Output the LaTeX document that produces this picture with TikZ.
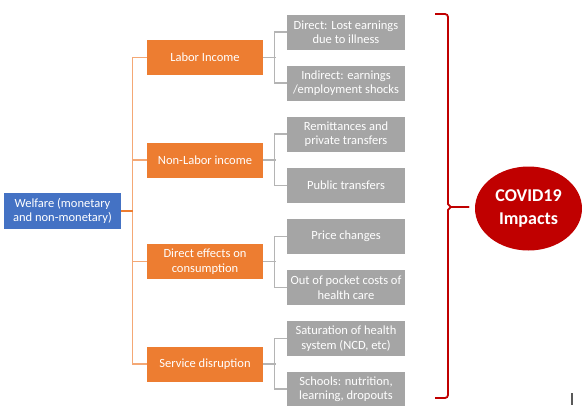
\documentclass[tikz,border=0pt]{standalone}
\usepackage{fontspec}
\setmainfont{Carlito}
\usetikzlibrary{shapes.geometric}
\definecolor{orangebox}{HTML}{ED7D31}
\definecolor{orangeline}{HTML}{F4A875}
\definecolor{graybox}{HTML}{A5A5A5}
\definecolor{grayline}{HTML}{B4B4B4}
\definecolor{bluebox}{HTML}{4472C4}
\definecolor{covidred}{HTML}{C00000}
\begin{document}
\begin{tikzpicture}[x=1pt,y=-1pt,
  box/.style={draw=none,text=white,align=center,inner sep=1pt,font=\fontsize{12.5}{14.5}\selectfont},
  bluenode/.style={box,fill=bluebox,minimum width=117pt,minimum height=36pt},
  orangenode/.style={box,fill=orangebox,minimum width=116pt,minimum height=35pt},
  graynode/.style={box,fill=graybox,minimum width=118pt,minimum height=35pt},
  oline/.style={draw=orangeline,line width=1.3pt},
  owline/.style={draw=orangebox,line width=1.6pt},
  gline/.style={draw=grayline,line width=1.2pt},
  brace/.style={draw=covidred,line width=1.8pt,rounded corners=3pt}]
\useasboundingbox (0,0) rectangle (582,405);
% root
\node[bluenode] (welfare) at (62.5,211) {Welfare (monetary\\and non-monetary)};
% level 1
\node[orangenode] (labor) at (205,57.5) {Labor Income};
\node[orangenode] (nonlabor) at (205,160) {Non-Labor income};
\node[orangenode] (direct) at (205,261.5) {Direct effects on\\consumption};
\node[orangenode] (service) at (205,364) {Service disruption};
% level 2
\node[graynode] (g1) at (346,32) {Direct: Lost earnings\\due to illness};
\node[graynode] (g2) at (346,83) {Indirect: earnings\\/employment shocks};
\node[graynode] (g3) at (346,134) {Remittances and\\private transfers};
\node[graynode] (g4) at (346,185.5) {Public transfers};
\node[graynode] (g5) at (346,236.5) {Price changes};
\node[graynode] (g6) at (346,287.5) {Out of pocket costs of\\health care};
\node[graynode] (g7) at (346,338.5) {Saturation of health\\system (NCD, etc)};
\node[graynode] (g8) at (346,389) {Schools: nutrition,\\learning, dropouts};
% covid
\node[ellipse,fill=covidred,text=white,minimum width=107pt,minimum height=84pt,inner sep=0pt,align=center,font=\fontsize{18}{23}\selectfont\bfseries] (covid) at (528.5,208.5) {COVID19\\Impacts};
% orange connectors
\draw[oline] (labor.west) -- ++(-14,0) coordinate (t1) |- (service.west);
\draw[oline] (nonlabor.west) -- ++(-14,0);
\draw[oline] (direct.west) -- ++(-14,0);
\draw[owline] (welfare.east) -- (welfare.east -| t1);
% gray connectors
\draw[gline] (g1.west) -- ++(-12,0) |- (g2.west);
\draw[gline] (labor.east) -- ++(13,0);
\draw[gline] (g3.west) -- ++(-12,0) |- (g4.west);
\draw[gline] (nonlabor.east) -- ++(13,0);
\draw[gline] (g5.west) -- ++(-12,0) |- (g6.west);
\draw[gline] (direct.east) -- ++(13,0);
\draw[gline] (g7.west) -- ++(-12,0) |- (g8.west);
\draw[gline] (service.east) -- ++(13,0);
% brace
\coordinate (btip) at (469,207);
\draw[brace] (435,14) -- (448,14) -- (448,201) to[out=-90,in=180] (454,207) -- (btip);
\draw[brace] (btip) -- (454,207) to[out=180,in=90] (448,213) -- (448,398) -- (435,398);
% stray mark
\draw[gray!70!black,line width=1.2pt] (572,393) -- (572,405);
\end{tikzpicture}
\end{document}
